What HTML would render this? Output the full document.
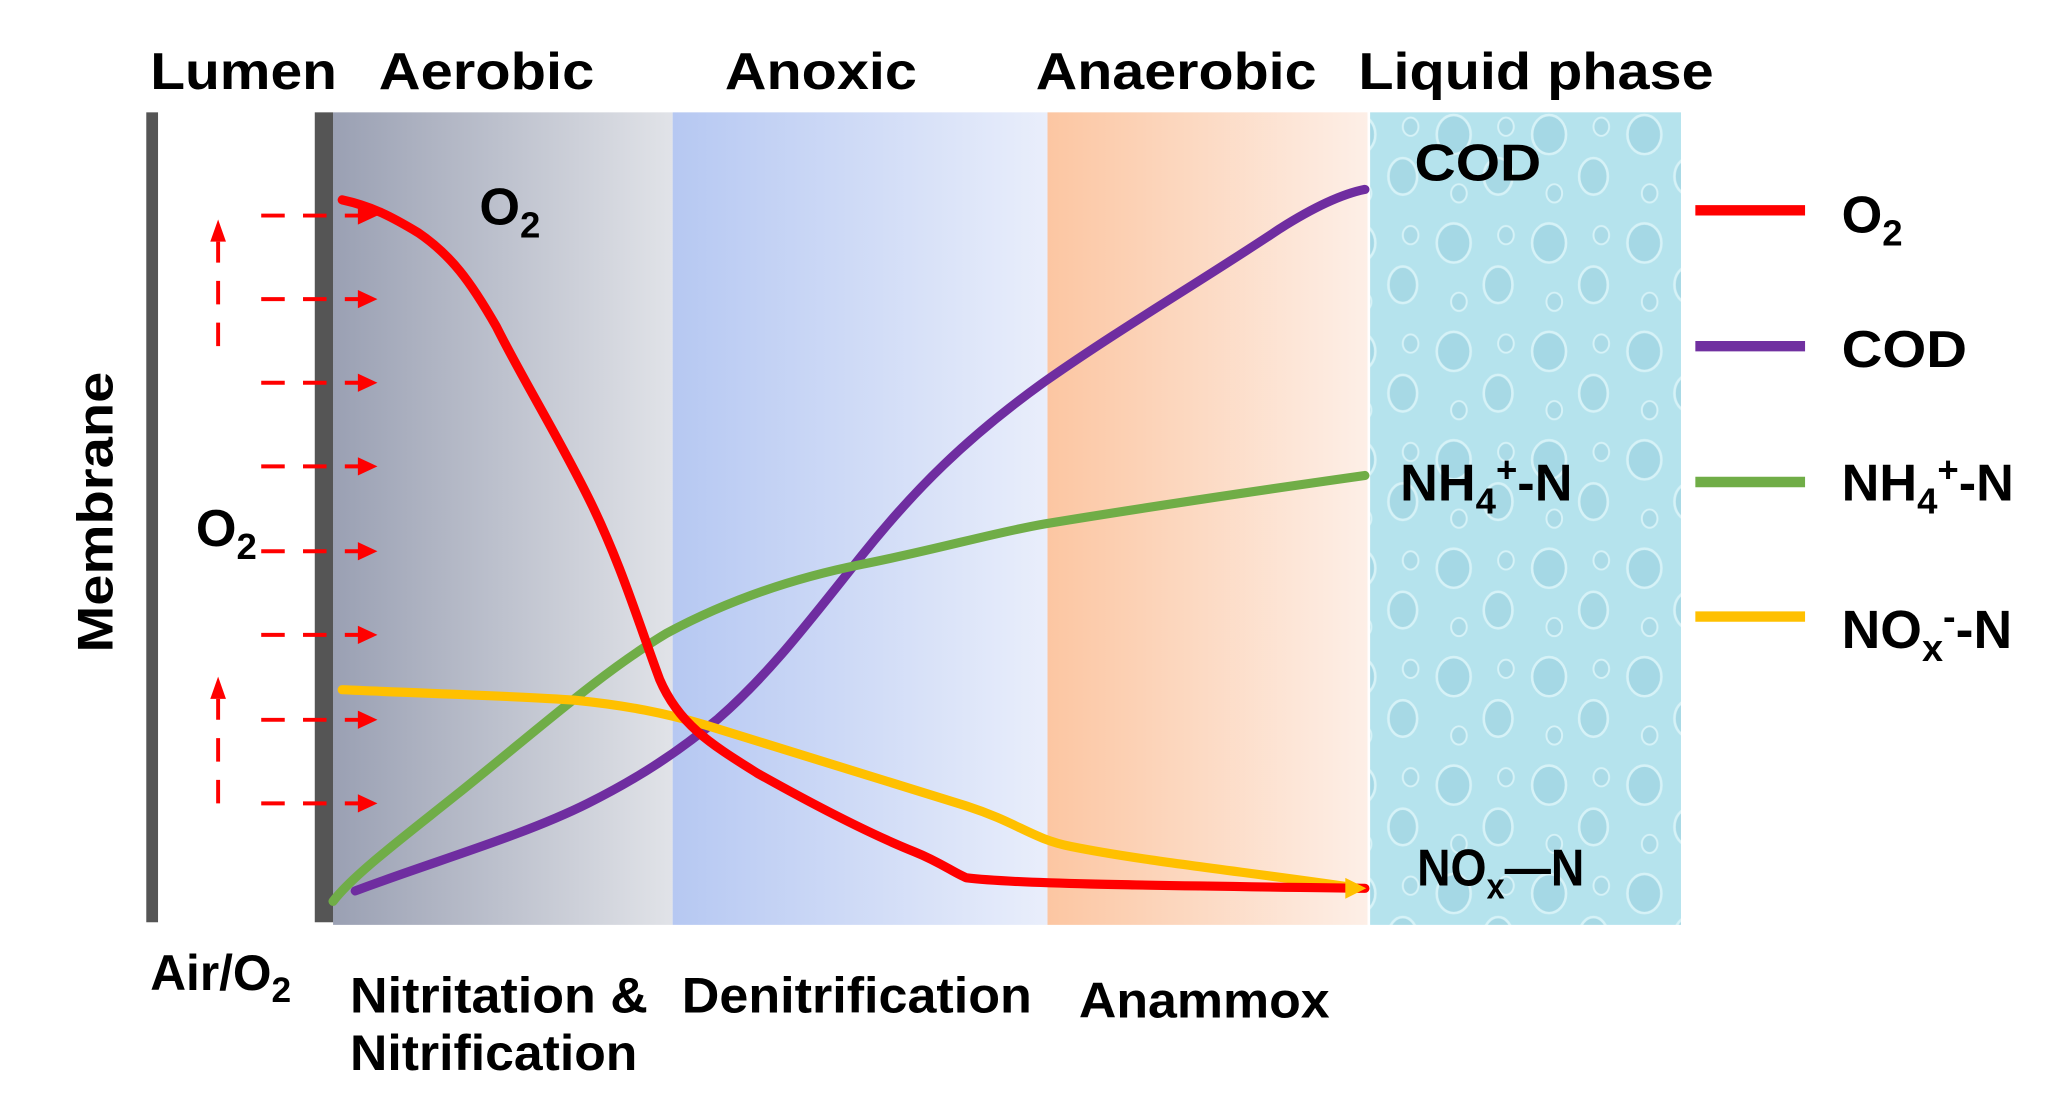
<!DOCTYPE html>
<html><head><meta charset="utf-8"><style>
html,body{margin:0;padding:0;background:#fff;}
svg{display:block;}
text{font-family:"Liberation Sans",sans-serif;font-weight:bold;fill:#000;}
</style></head><body>
<svg width="2048" height="1096" viewBox="0 0 1568 839" preserveAspectRatio="none" xmlns="http://www.w3.org/2000/svg">
<defs>
<linearGradient id="ga" x1="0" x2="1"><stop offset="0" stop-color="#9aa0b3"/><stop offset="1" stop-color="#e1e3e8"/></linearGradient>
<linearGradient id="gb" x1="0" x2="1"><stop offset="0" stop-color="#b6c8f2"/><stop offset="1" stop-color="#e9eefb"/></linearGradient>
<linearGradient id="gc" x1="0" x2="1"><stop offset="0" stop-color="#fcc6a2"/><stop offset="1" stop-color="#fdefe7"/></linearGradient>
<pattern id="drops" width="73" height="83" patternUnits="userSpaceOnUse">
<rect width="73" height="83" fill="#b5e3ed"/>
<ellipse cx="18" cy="20" rx="13" ry="15" fill="#a5d8e5" stroke="#d6f2f7" stroke-width="2"/>
<ellipse cx="52" cy="52" rx="11" ry="14" fill="#a7d9e5" stroke="#d6f2f7" stroke-width="2"/>
<ellipse cx="22" cy="65" rx="6" ry="7" fill="#abdbe7" stroke="#d6f2f7" stroke-width="1.5"/>
<ellipse cx="58" cy="14" rx="6" ry="7" fill="#abdbe7" stroke="#d6f2f7" stroke-width="1.5"/>
</pattern>
</defs>

<g font-size="40">
<text x="115" y="68" textLength="143" lengthAdjust="spacingAndGlyphs">Lumen</text>
<text x="290" y="68" textLength="165" lengthAdjust="spacingAndGlyphs">Aerobic</text>
<text x="555" y="68" textLength="147" lengthAdjust="spacingAndGlyphs">Anoxic</text>
<text x="793" y="68" textLength="215" lengthAdjust="spacingAndGlyphs">Anaerobic</text>
<text x="1040" y="68" textLength="272" lengthAdjust="spacingAndGlyphs">Liquid phase</text>
</g>

<rect x="255" y="86" width="260" height="622" fill="url(#ga)"/>
<rect x="515" y="86" width="287" height="622" fill="url(#gb)"/>
<rect x="802" y="86" width="245" height="622" fill="url(#gc)"/>
<rect x="1049" y="86" width="238" height="622" fill="url(#drops)"/>

<rect x="112" y="86" width="9" height="620" fill="#555"/>
<rect x="241" y="86" width="14" height="620" fill="#555"/>

<text transform="translate(86,392) rotate(-90)" font-size="38" text-anchor="middle" textLength="215" lengthAdjust="spacingAndGlyphs">Membrane</text>

<g stroke="#ff0000" stroke-width="3" fill="none" stroke-dasharray="18,14">
<line x1="200" y1="165" x2="276" y2="165"/>
<line x1="200" y1="229" x2="276" y2="229"/>
<line x1="200" y1="293" x2="276" y2="293"/>
<line x1="200" y1="357" x2="276" y2="357"/>
<line x1="200" y1="422" x2="276" y2="422"/>
<line x1="200" y1="486" x2="276" y2="486"/>
<line x1="200" y1="551" x2="276" y2="551"/>
<line x1="200" y1="615" x2="276" y2="615"/>
<line x1="167" y1="265" x2="167" y2="185"/>
<line x1="167" y1="615" x2="167" y2="535"/>
</g>
<g fill="#ff0000">
<path d="M274,158 L289,165 L274,172z"/><path d="M274,222 L289,229 L274,236z"/>
<path d="M274,286 L289,293 L274,300z"/><path d="M274,350 L289,357 L274,364z"/>
<path d="M274,415 L289,422 L274,429z"/><path d="M274,479 L289,486 L274,493z"/>
<path d="M274,544 L289,551 L274,558z"/><path d="M274,608 L289,615 L274,622z"/>
<path d="M161,185 L167,168 L173,185z"/><path d="M161,535 L167,518 L173,535z"/>
</g>

<text x="150" y="418" font-size="40">O<tspan font-size="28" dy="10">2</tspan></text>
<text x="367" y="172" font-size="40">O<tspan font-size="28" dy="10">2</tspan></text>

<g fill="none" stroke-width="7" stroke-linecap="round" stroke-linejoin="round">
<path stroke="#6f2da0" d="M272,682 C330,660 400,640 450,615 C490,595 520,575 550,550 C590,515 620,475 660,425 C700,375 740,335 800,292 C860,250 920,215 980,175 C1010,156 1030,148 1045,145"/>
<path stroke="#70ad47" d="M255,690 C270,670 310,640 350,608 C410,560 460,515 510,485 C560,458 610,442 660,432 C720,420 760,408 800,401 C880,388 960,376 1045,364"/>
<path stroke="#ffc000" d="M262,528 C330,531 400,533 440,536 C480,540 510,546 540,555 C600,574 680,598 740,617 C780,630 790,642 820,648 C880,660 960,668 1040,680"/>
<path stroke="#ff0000" d="M262,153 C285,158 300,166 320,178 C345,195 360,215 380,250 C400,290 425,330 450,380 C475,430 490,480 505,520 C520,555 545,570 580,592 C630,620 670,640 700,652 C720,660 730,668 740,672 C780,677 900,678 1045,680"/>
</g>
<path d="M1030,672 L1046,680 L1030,688z" fill="#ffc000"/>

<text x="1083" y="138" font-size="40" textLength="97" lengthAdjust="spacingAndGlyphs">COD</text>
<text x="1072" y="383" font-size="40">NH<tspan font-size="28" dy="10">4</tspan><tspan font-size="28" dy="-24">+</tspan><tspan dy="14">-N</tspan></text>
<text x="1085" y="678" font-size="40" textLength="128" lengthAdjust="spacingAndGlyphs">NO<tspan font-size="28" dy="10">x</tspan><tspan dy="-10">—N</tspan></text>

<g stroke-width="8">
<line x1="1298" y1="161" x2="1382" y2="161" stroke="#ff0000"/>
<line x1="1298" y1="265" x2="1382" y2="265" stroke="#7030a0"/>
<line x1="1298" y1="369" x2="1382" y2="369" stroke="#70ad47"/>
<line x1="1298" y1="472" x2="1382" y2="472" stroke="#ffc000"/>
</g>
<text x="1410" y="178" font-size="40">O<tspan font-size="28" dy="10">2</tspan></text>
<text x="1410" y="281" font-size="40" textLength="96" lengthAdjust="spacingAndGlyphs">COD</text>
<text x="1410" y="383" font-size="40">NH<tspan font-size="28" dy="10">4</tspan><tspan font-size="28" dy="-24">+</tspan><tspan dy="14">-N</tspan></text>
<text x="1410" y="496" font-size="41">NO<tspan font-size="29" dy="10">x</tspan><tspan font-size="29" dy="-24">-</tspan><tspan dy="14">-N</tspan></text>

<text x="115" y="758" font-size="38">Air/O<tspan font-size="27" dy="9">2</tspan></text>
<text x="268" y="775" font-size="38" textLength="228" lengthAdjust="spacingAndGlyphs">Nitritation &amp;</text>
<text x="268" y="819" font-size="38" textLength="220" lengthAdjust="spacingAndGlyphs">Nitrification</text>
<text x="522" y="775" font-size="38" textLength="268" lengthAdjust="spacingAndGlyphs">Denitrification</text>
<text x="826" y="779" font-size="38" textLength="192" lengthAdjust="spacingAndGlyphs">Anammox</text>
</svg>
</body></html>
